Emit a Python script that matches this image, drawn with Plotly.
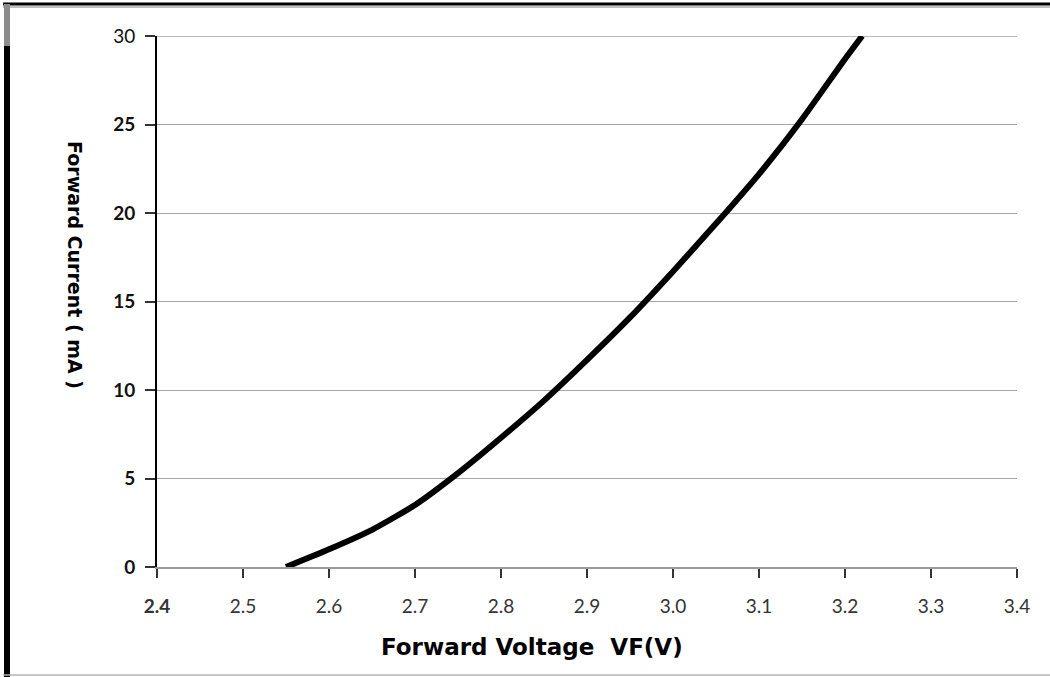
import plotly.graph_objects as go

# Data
voltage = [2.55, 2.60, 2.65, 2.70, 2.75, 2.80, 2.85, 2.90, 2.95, 3.00, 3.05, 3.10, 3.15, 3.20, 3.22]
current = [0.0, 1.0, 2.1, 3.5, 5.3, 7.3, 9.4, 11.7, 14.1, 16.7, 19.4, 22.2, 25.3, 28.7, 30.0]

x_ticks = [2.4, 2.5, 2.6, 2.7, 2.8, 2.9, 3.0, 3.1, 3.2, 3.3, 3.4]
x_tick_text = ["<b>2.4</b>", "2.5", "2.6", "2.7", "2.8", "2.9", "3.0", "3.1", "3.2", "3.3", "3.4"]
y_ticks = [0, 5, 10, 15, 20, 25, 30]
y_tick_text = ["<b>0</b>", "<b>5</b>", "<b>10</b>", "<b>15</b>", "<b>20</b>", "<b>25</b>", "30"]

fig = go.Figure()
fig.add_trace(go.Scatter(
    x=voltage, y=current, mode="lines",
    line=dict(color="black", width=6, shape="spline", smoothing=0.5),
    showlegend=False, hoverinfo="skip",
))

W, H = 1050, 677
L, R, T, B = 157, 33, 36, 110

fig.update_layout(
    width=W, height=H,
    margin=dict(l=L, r=R, t=T, b=B),
    paper_bgcolor="white", plot_bgcolor="white",
    font=dict(family="Lato, Liberation Sans, sans-serif", size=19, color="#222"),
    xaxis=dict(
        range=[2.4, 3.4], tickvals=x_ticks, ticktext=x_tick_text,
        showgrid=False, zeroline=False,
        showline=True, linecolor="#9a9a9a", linewidth=1.5,
        ticks="outside", ticklen=9, tickcolor="#333", tickwidth=1.5,
        tickfont=dict(size=19, color="#333"),
        ticklabelstandoff=12,
    ),
    yaxis=dict(
        range=[0, 30], tickvals=y_ticks, ticktext=y_tick_text,
        showgrid=True, gridcolor="#a6a6a6", gridwidth=1.2,
        zeroline=False,
        showline=True, linecolor="black", linewidth=2,
        ticks="outside", ticklen=10, tickcolor="#333", tickwidth=1.5,
        tickfont=dict(size=19, color="#111"),
        ticklabelstandoff=6,
    ),
    annotations=[
        dict(text="<b>Forward Current ( mA )</b>", textangle=90,
             xref="paper", yref="paper", x=(75 - L) / (W - L - R), y=(567 - 265) / 531,
             showarrow=False, font=dict(family="DejaVu Sans", size=19, color="black"),
             xanchor="center", yanchor="middle"),
        dict(text="<b>Forward Voltage  VF(V)</b>",
             xref="paper", yref="paper", x=(532 - L) / (W - L - R), y=(567 - 647) / 531,
             showarrow=False, font=dict(family="DejaVu Sans", size=23, color="black"),
             xanchor="center", yanchor="middle"),
    ],
)

def px_x(px):
    return (px - L) / (W - L - R)

def px_y(py):
    return (567 - py) / 531

shapes = [
    # gridline at the top tick
    dict(type="line", xref="paper", yref="y", x0=px_x(147), x1=1, y0=y_ticks[-1], y1=y_ticks[-1],
         line=dict(color="#a6a6a6", width=1.5), layer="below"),
    # top frame line
    dict(type="line", xref="paper", yref="paper", x0=px_x(3), x1=px_x(1050), y0=px_y(4), y1=px_y(4),
         line=dict(color="black", width=3)),
    dict(type="line", xref="paper", yref="paper", x0=px_x(3), x1=px_x(1050), y0=px_y(7), y1=px_y(7),
         line=dict(color="#aaaaaa", width=1.5)),
    # left frame line grey (top part)
    dict(type="line", xref="paper", yref="paper", x0=px_x(7), x1=px_x(7), y0=px_y(4), y1=px_y(46),
         line=dict(color="#8c8c8c", width=6)),
    # left frame line black
    dict(type="line", xref="paper", yref="paper", x0=px_x(7), x1=px_x(7), y0=px_y(46), y1=px_y(677),
         line=dict(color="black", width=6)),
    # bottom frame line
    dict(type="line", xref="paper", yref="paper", x0=px_x(3), x1=px_x(1050), y0=px_y(675), y1=px_y(675),
         line=dict(color="#b5b5b5", width=1.5)),
]
fig.update_layout(shapes=shapes)

fig.write_html("out.html", config={"displayModeBar": False},
               post_script="document.body.style.margin='0';document.body.style.overflow='hidden';")
